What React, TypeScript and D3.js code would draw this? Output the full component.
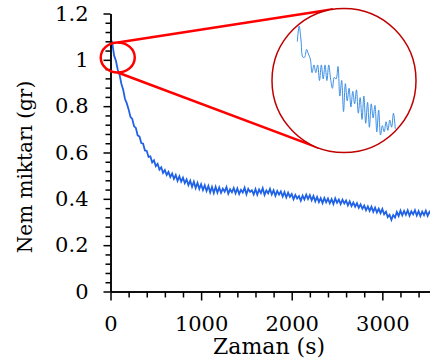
import React, { useRef, useEffect } from 'react';
import * as d3 from 'd3';

// moisture readings every 20 s
const sampleStep = 20;
const moisture = [
    1.052, 1.071, 1.018, 0.996, 0.957, 0.936, 0.897, 0.871, 0.831, 0.812,
    0.786, 0.754, 0.745, 0.713, 0.706, 0.674, 0.669, 0.641, 0.638, 0.609,
    0.607, 0.581, 0.583, 0.557, 0.566, 0.541, 0.551, 0.526, 0.536, 0.512,
    0.524, 0.503, 0.516, 0.494, 0.509, 0.486, 0.503, 0.478, 0.497, 0.474,
    0.491, 0.468, 0.484, 0.459, 0.478, 0.452, 0.474, 0.447, 0.469, 0.443,
    0.463, 0.438, 0.459, 0.434, 0.456, 0.428, 0.451, 0.425, 0.452, 0.427,
    0.449, 0.426, 0.444, 0.431, 0.451, 0.422, 0.441, 0.428, 0.447, 0.424,
    0.445, 0.421, 0.439, 0.427, 0.448, 0.42, 0.443, 0.43, 0.437, 0.419,
    0.442, 0.418, 0.44, 0.425, 0.446, 0.417, 0.436, 0.424, 0.443, 0.419,
    0.437, 0.413, 0.434, 0.418, 0.432, 0.41, 0.429, 0.406, 0.427, 0.409,
    0.421, 0.398, 0.417, 0.401, 0.412, 0.392, 0.414, 0.397, 0.418, 0.399,
    0.416, 0.394, 0.412, 0.389, 0.408, 0.386, 0.403, 0.382, 0.404, 0.385,
    0.401, 0.381, 0.399, 0.378, 0.402, 0.383, 0.397, 0.377, 0.396, 0.38,
    0.393, 0.372, 0.389, 0.369, 0.384, 0.366, 0.381, 0.361, 0.376, 0.357,
    0.371, 0.351, 0.367, 0.348, 0.366, 0.344, 0.362, 0.341, 0.357, 0.338,
    0.356, 0.333, 0.344, 0.321, 0.331, 0.309, 0.33, 0.319, 0.343, 0.326,
    0.349, 0.329, 0.348, 0.331, 0.35, 0.327, 0.346, 0.333, 0.351, 0.328,
    0.347, 0.326, 0.345, 0.33, 0.349, 0.327, 0.344, 0.331,
];

// zoomed first seconds shown in the magnifier
const insetMoisture = [
    1.06, 1.07, 1.061, 1.05, 1.05, 1.055, 1.052, 1.049, 1.04, 1.045,
    1.04, 1.045, 1.035, 1.045, 1.036, 1.045, 1.035, 1.045, 1.036, 1.03,
    1.037, 1.036, 1.044, 1.025, 1.035, 1.015, 1.033, 1.022, 1.03, 1.018,
    1.028, 1.02, 1.029, 1.014, 1.024, 1.01, 1.025, 1.0075, 1.021, 1.005,
    1.02, 1.011, 1.019, 1.002, 1.016, 1.0, 1.006, 1.002, 1.0085, 1.003,
    1.0096, 1.005, 1.014, 1.004,
];

const xTicks = [0, 1000, 2000, 3000];
const yTicks = [0, 0.2, 0.4, 0.6, 0.8, 1, 1.2];
const xTitle = 'Zaman (s)';
const yTitle = 'Nem miktarı (gr)';

const font = 'DejaVu Serif';

// tangent point on circle (cx, cy, r) seen from (px, py)
function tangent(px: number, py: number, cx: number, cy: number, r: number, side: number) {
    const d = Math.hypot(px - cx, py - cy);
    const base = Math.atan2(py - cy, px - cx);
    const a = base + side * Math.acos(r / d);
    return [cx + r * Math.cos(a), cy + r * Math.sin(a)];
}

export default function App() {
    const svgRef = useRef<SVGSVGElement | null>(null);

    const x = d3.scaleLinear().domain([0, 3600]).range([110.5, 436.7]);
    const y = d3.scaleLinear().domain([0, 1.2]).range([291.5, 13.5]);

    const xi = d3.scaleLinear().domain([0, insetMoisture.length - 1]).range([297.3, 395.3]);
    const yi = d3.scaleLinear().domain([1.0, 1.07]).range([135, 26]);

    const mainLine = d3
        .line<number>()
        .x((d, i) => x(i * sampleStep))
        .y((d) => y(d));

    const insetLine = d3
        .line<number>()
        .x((d, i) => xi(i))
        .y((d) => yi(d))
        .curve(d3.curveCatmullRom);

    // magnifier
    const ex = x(80), ey = y(1.01), erx = 17, ery = 15;
    const cx = 344, cy = 80.5, cr = 72;
    const t1 = tangent(ex, ey - ery, cx, cy, cr, 1);
    const t2 = tangent(ex, ey + ery, cx, cy, cr, -1);

    useEffect(() => {
        const svg = d3.select(svgRef.current);

        const xMinor = d3.range(0, 3600, 200).filter((v) => v % 1000 !== 0);
        const yMinor = d3.range(0, 1.2001, 0.04).filter((v) => Math.abs(v * 5 - Math.round(v * 5)) > 1e-6);

        svg.select<SVGGElement>('.x-minor')
            .attr('transform', `translate(0,${y(0)})`)
            .call(d3.axisBottom(x).tickValues(xMinor).tickSize(6).tickSizeOuter(0).tickFormat(() => ''));
        svg.select<SVGGElement>('.x-axis')
            .attr('transform', `translate(0,${y(0)})`)
            .call(
                d3.axisBottom(x).tickValues(xTicks).tickSize(9).tickPadding(16).tickSizeOuter(0).tickFormat(d3.format('d'))
            );
        svg.select<SVGGElement>('.y-minor')
            .attr('transform', `translate(${x(0)},0)`)
            .call(d3.axisLeft(y).tickValues(yMinor).tickSize(5).tickSizeOuter(0).tickFormat(() => ''));
        svg.select<SVGGElement>('.y-axis')
            .attr('transform', `translate(${x(0)},0)`)
            .call(
                d3
                    .axisLeft(y)
                    .tickValues(yTicks)
                    .tickSize(7)
                    .tickPadding(15)
                    .tickSizeOuter(0)
                    .tickFormat((d) => String(+(+d).toFixed(1)))
            );

        svg.selectAll('.x-axis, .y-axis, .x-minor, .y-minor')
            .attr('font-family', font)
            .attr('font-size', 21);
        svg.selectAll('.x-axis, .y-axis, .x-minor, .y-minor').selectAll('path, line')
            .attr('stroke', '#000')
            .attr('stroke-width', 1.5);
        svg.selectAll('.x-axis text, .y-axis text').attr('fill', '#000');
    }, []);

    return (
        <div style={{ position: 'absolute', left: 0, top: 0 }}>
            <svg ref={svgRef} width={430} height={362} style={{ display: 'block', background: '#fff' }}>
                <path d={mainLine(moisture) || ''} fill="none" stroke="#1f62e6" strokeWidth={1.8} />

                <g className="x-minor" />
                <g className="y-minor" />
                <g className="x-axis" />
                <g className="y-axis" />

                <line x1={ex} y1={ey - ery} x2={t1[0]} y2={t1[1]} stroke="#ff0000" strokeWidth={2.5} />
                <line x1={ex} y1={ey + ery} x2={t2[0]} y2={t2[1]} stroke="#ff0000" strokeWidth={2.5} />
                <ellipse cx={ex} cy={ey} rx={erx} ry={ery} fill="none" stroke="#ff0000" strokeWidth={2.5} />
                <circle cx={cx} cy={cy} r={cr} fill="#fff" stroke="#c00000" strokeWidth={1.5} />
                <path d={insetLine(insetMoisture) || ''} fill="none" stroke="#3d8fe6" strokeWidth={1} />

                <text
                    transform={`translate(32,167) rotate(-90)`}
                    textAnchor="middle"
                    fontFamily={font}
                    fontSize={20}
                >
                    {yTitle}
                </text>
                <text x={269} y={354} textAnchor="middle" fontFamily={font} fontSize={22}>
                    {xTitle}
                </text>
            </svg>
        </div>
    );
}
